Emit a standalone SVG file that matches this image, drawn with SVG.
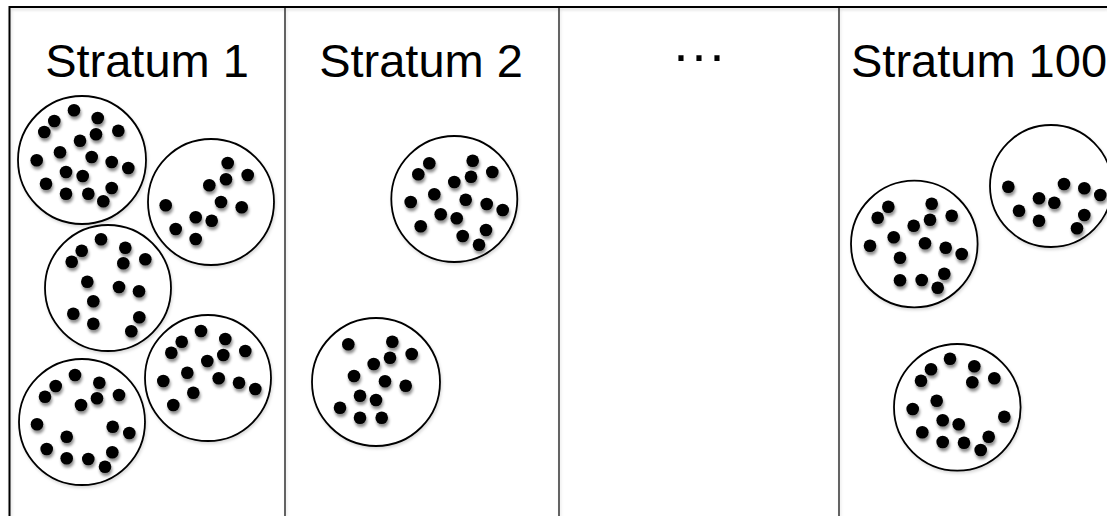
<svg xmlns="http://www.w3.org/2000/svg" width="1107" height="516" viewBox="0 0 1107 516">
<defs>
<filter id="sh" x="-50%" y="-50%" width="200%" height="200%"><feDropShadow dx="1" dy="3" stdDeviation="1.8" flood-color="#000" flood-opacity="0.45"/></filter>
<filter id="shl" x="-10%" y="-10%" width="120%" height="120%"><feDropShadow dx="1" dy="2" stdDeviation="1.5" flood-color="#000" flood-opacity="0.15"/></filter>
</defs>
<style>
.frame{stroke:#000;stroke-width:2;fill:none}
.div{stroke:#000;stroke-width:1.2;fill:none}
.ring{fill:#fff;stroke:#000;stroke-width:1.8}
.dot{fill:#000}
.lbl{font-family:"Liberation Sans",Arial,sans-serif;font-size:47px;fill:#000}
.ell{font-family:"Liberation Sans",Arial,sans-serif;font-size:54px;fill:#000}
</style>
<rect width="1107" height="516" fill="#fff"/>
<g id="grid" filter="url(#shl)">
<line class="frame" x1="9.5" y1="7" x2="1107" y2="7"/>
<line class="frame" x1="9.5" y1="6" x2="9.5" y2="516"/>
<line class="div" x1="285" y1="7" x2="285" y2="516"/>
<line class="div" x1="559" y1="7" x2="559" y2="516"/>
<line class="div" x1="839" y1="7" x2="839" y2="516"/>
</g>
<g id="labels">
<text class="lbl" x="147" y="77" text-anchor="middle">Stratum 1</text>
<text class="lbl" x="421" y="77" text-anchor="middle">Stratum 2</text>
<text class="ell" x="699" y="73" text-anchor="middle">···</text>
<text class="lbl" x="851" y="77">Stratum 100</text>
</g>
<g id="stratum1">
<g id="s1c1">
<circle class="ring" cx="82" cy="160" r="64" filter="url(#shl)"/>
<g class="dot" filter="url(#sh)">
<circle cx="74" cy="110.3" r="6.3"/><circle cx="54.3" cy="121" r="6.3"/><circle cx="97.7" cy="118" r="6.3"/><circle cx="44.3" cy="132" r="6.3"/><circle cx="96" cy="134.3" r="6.3"/><circle cx="118.3" cy="130.7" r="6.3"/><circle cx="80" cy="140.7" r="6.3"/><circle cx="60" cy="152.3" r="6.3"/><circle cx="36.7" cy="160.3" r="6.3"/><circle cx="91.7" cy="157" r="6.3"/><circle cx="111.7" cy="162" r="6.3"/><circle cx="128.3" cy="168" r="6.3"/><circle cx="66" cy="172" r="6.3"/><circle cx="82.7" cy="176" r="6.3"/><circle cx="46" cy="183.7" r="6.3"/><circle cx="111.7" cy="188" r="6.3"/><circle cx="66" cy="193.7" r="6.3"/><circle cx="88.3" cy="193.7" r="6.3"/><circle cx="103.3" cy="201.3" r="6.3"/>
</g>
</g>
<g id="s1c2">
<circle class="ring" cx="211" cy="202" r="63" filter="url(#shl)"/>
<g class="dot" filter="url(#sh)">
<circle cx="227.7" cy="163" r="6.3"/><circle cx="247.7" cy="175" r="6.3"/><circle cx="226" cy="179.3" r="6.3"/><circle cx="209.3" cy="185.3" r="6.3"/><circle cx="221" cy="202" r="6.3"/><circle cx="241.7" cy="207.3" r="6.3"/><circle cx="165.7" cy="205.3" r="6.3"/><circle cx="195.7" cy="217.3" r="6.3"/><circle cx="211.7" cy="220.7" r="6.3"/><circle cx="175.7" cy="229" r="6.3"/><circle cx="195.7" cy="239" r="6.3"/>
</g>
</g>
<g id="s1c3">
<circle class="ring" cx="108" cy="288" r="63" filter="url(#shl)"/>
<g class="dot" filter="url(#sh)">
<circle cx="101" cy="239.3" r="6.3"/><circle cx="81.7" cy="250.7" r="6.3"/><circle cx="125.3" cy="247.7" r="6.3"/><circle cx="71.7" cy="261.7" r="6.3"/><circle cx="123.3" cy="263.3" r="6.3"/><circle cx="145.3" cy="259.3" r="6.3"/><circle cx="87.3" cy="281.7" r="6.3"/><circle cx="119" cy="287" r="6.3"/><circle cx="139" cy="291.3" r="6.3"/><circle cx="93.3" cy="301.3" r="6.3"/><circle cx="73.3" cy="313.7" r="6.3"/><circle cx="139.3" cy="317.3" r="6.3"/><circle cx="93.3" cy="323.7" r="6.3"/><circle cx="131.3" cy="331.3" r="6.3"/>
</g>
</g>
<g id="s1c4">
<circle class="ring" cx="208" cy="378" r="63" filter="url(#shl)"/>
<g class="dot" filter="url(#sh)">
<circle cx="201" cy="331" r="6.3"/><circle cx="181.7" cy="341.7" r="6.3"/><circle cx="225.3" cy="339" r="6.3"/><circle cx="171.3" cy="352.7" r="6.3"/><circle cx="223.3" cy="355" r="6.3"/><circle cx="245.3" cy="351" r="6.3"/><circle cx="207.3" cy="361" r="6.3"/><circle cx="187.3" cy="372.7" r="6.3"/><circle cx="163.3" cy="381" r="6.3"/><circle cx="218.7" cy="378.3" r="6.3"/><circle cx="239" cy="382.7" r="6.3"/><circle cx="255.3" cy="389" r="6.3"/><circle cx="193.3" cy="392.7" r="6.3"/><circle cx="173.3" cy="405" r="6.3"/>
</g>
</g>
<g id="s1c5">
<circle class="ring" cx="82" cy="422" r="63" filter="url(#shl)"/>
<g class="dot" filter="url(#sh)">
<circle cx="75" cy="375" r="6.3"/><circle cx="55.7" cy="386" r="6.3"/><circle cx="99.3" cy="382.7" r="6.3"/><circle cx="45" cy="396.7" r="6.3"/><circle cx="97" cy="398.3" r="6.3"/><circle cx="119" cy="395" r="6.3"/><circle cx="81" cy="405" r="6.3"/><circle cx="37" cy="424.3" r="6.3"/><circle cx="112.7" cy="426.7" r="6.3"/><circle cx="129.3" cy="433" r="6.3"/><circle cx="66.7" cy="436.7" r="6.3"/><circle cx="46.7" cy="449" r="6.3"/><circle cx="112.3" cy="452.3" r="6.3"/><circle cx="66.7" cy="458.3" r="6.3"/><circle cx="88.3" cy="459" r="6.3"/><circle cx="105" cy="466.7" r="6.3"/>
</g>
</g>
</g>
<g id="stratum2">
<g id="s2c1">
<circle class="ring" cx="454.3" cy="199" r="63" filter="url(#shl)"/>
<g class="dot" filter="url(#sh)">
<circle cx="429.3" cy="163.3" r="6.3"/><circle cx="472.7" cy="160.7" r="6.3"/><circle cx="418.3" cy="174.3" r="6.3"/><circle cx="471" cy="176.7" r="6.3"/><circle cx="492.3" cy="172" r="6.3"/><circle cx="454.3" cy="182" r="6.3"/><circle cx="434.3" cy="194.3" r="6.3"/><circle cx="410.7" cy="202" r="6.3"/><circle cx="465.7" cy="199.7" r="6.3"/><circle cx="486.7" cy="204" r="6.3"/><circle cx="502.7" cy="210" r="6.3"/><circle cx="440.7" cy="214.3" r="6.3"/><circle cx="456.7" cy="218.3" r="6.3"/><circle cx="420.7" cy="226.3" r="6.3"/><circle cx="486" cy="230" r="6.3"/><circle cx="462.7" cy="236" r="6.3"/><circle cx="479" cy="244.7" r="6.3"/>
</g>
</g>
<g id="s2c2">
<circle class="ring" cx="376" cy="382" r="64" filter="url(#shl)"/>
<g class="dot" filter="url(#sh)">
<circle cx="348.3" cy="344.3" r="6.3"/><circle cx="392.3" cy="341.7" r="6.3"/><circle cx="411.7" cy="354" r="6.3"/><circle cx="390" cy="357.7" r="6.3"/><circle cx="373.7" cy="364" r="6.3"/><circle cx="354" cy="376" r="6.3"/><circle cx="385" cy="381.3" r="6.3"/><circle cx="405.7" cy="385.7" r="6.3"/><circle cx="360" cy="395.7" r="6.3"/><circle cx="376" cy="400" r="6.3"/><circle cx="340" cy="407.7" r="6.3"/><circle cx="360" cy="417.7" r="6.3"/><circle cx="381.7" cy="417.7" r="6.3"/>
</g>
</g>
</g>
<g id="stratum100">
<g id="s100c1">
<circle class="ring" cx="914.3" cy="244" r="63.3" filter="url(#shl)"/>
<g class="dot" filter="url(#sh)">
<circle cx="888.3" cy="206.7" r="6.3"/><circle cx="931.7" cy="203.7" r="6.3"/><circle cx="877.7" cy="217.7" r="6.3"/><circle cx="930" cy="219.7" r="6.3"/><circle cx="951.7" cy="215.7" r="6.3"/><circle cx="913.7" cy="225.7" r="6.3"/><circle cx="893.7" cy="237.3" r="6.3"/><circle cx="870" cy="245.7" r="6.3"/><circle cx="925" cy="243.3" r="6.3"/><circle cx="945.7" cy="247.7" r="6.3"/><circle cx="961.7" cy="254" r="6.3"/><circle cx="900" cy="257.7" r="6.3"/><circle cx="944.3" cy="273.7" r="6.3"/><circle cx="900" cy="280.3" r="6.3"/><circle cx="921.7" cy="280" r="6.3"/><circle cx="937.7" cy="287.7" r="6.3"/>
</g>
</g>
<g id="s100c2">
<circle class="ring" cx="1051" cy="186" r="61" filter="url(#shl)"/>
<g class="dot" filter="url(#sh)">
<circle cx="1008.3" cy="186.7" r="6.3"/><circle cx="1064" cy="184" r="6.3"/><circle cx="1084.3" cy="188.3" r="6.3"/><circle cx="1100.3" cy="195" r="6.3"/><circle cx="1039" cy="198.3" r="6.3"/><circle cx="1054.3" cy="202.7" r="6.3"/><circle cx="1019" cy="210.7" r="6.3"/><circle cx="1084.3" cy="215" r="6.3"/><circle cx="1039" cy="220.7" r="6.3"/><circle cx="1077" cy="228.3" r="6.3"/>
</g>
</g>
<g id="s100c3">
<circle class="ring" cx="957.3" cy="407.3" r="63.3" filter="url(#shl)"/>
<g class="dot" filter="url(#sh)">
<circle cx="950" cy="358.7" r="6.3"/><circle cx="931" cy="369.3" r="6.3"/><circle cx="974.3" cy="366.3" r="6.3"/><circle cx="921" cy="380.7" r="6.3"/><circle cx="972.3" cy="382.3" r="6.3"/><circle cx="994.3" cy="378.3" r="6.3"/><circle cx="936.7" cy="400.7" r="6.3"/><circle cx="912.7" cy="409" r="6.3"/><circle cx="1004.3" cy="416.7" r="6.3"/><circle cx="942.7" cy="420.3" r="6.3"/><circle cx="958.7" cy="424.3" r="6.3"/><circle cx="922.3" cy="432.3" r="6.3"/><circle cx="988.7" cy="436.7" r="6.3"/><circle cx="942.7" cy="442" r="6.3"/><circle cx="964" cy="442.7" r="6.3"/><circle cx="980.7" cy="450" r="6.3"/>
</g>
</g>
</g>
</svg>
